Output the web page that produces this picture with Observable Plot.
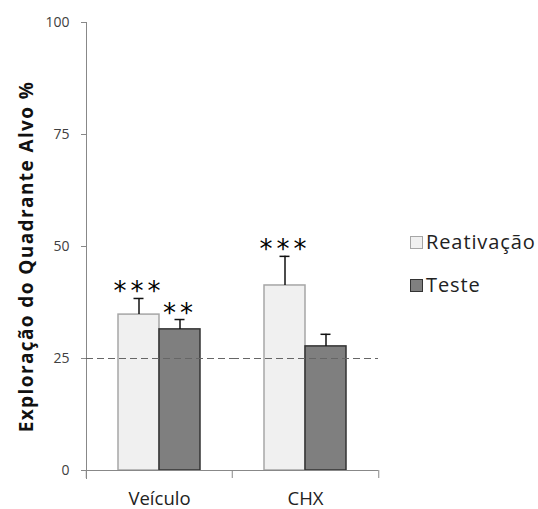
<!DOCTYPE html>
<html><head><meta charset="utf-8">
<script src="https://cdn.jsdelivr.net/npm/d3@7"></script>
<script src="https://cdn.jsdelivr.net/npm/@observablehq/plot@0.6"></script>
<style>
body{margin:0;background:#fff;font-family:"Open Sans",sans-serif}
#wrap{position:relative;width:538px;height:509px}
.leg{position:absolute;left:410px;font-size:20px;letter-spacing:0.9px;color:#222;display:flex;align-items:center;line-height:22px;white-space:nowrap}
.sw{width:11px;height:11px;margin-right:3px;border:1.5px solid}
</style></head><body><div id="wrap"></div>
<script>
const categories = ["Veículo", "CHX"];
const series = ["Reativação", "Teste"];
const reativacaoMeans = [34.8, 41.3];
const reativacaoErrors = [3.6, 6.5];
const reativacaoStars = ["***", "***"];
const testeMeans = [31.5, 27.7];
const testeErrors = [2.2, 2.7];
const testeStars = ["**", ""];
const chanceLevel = 25;
const yTicks = [0, 25, 50, 75, 100];
const yTitle = "Exploração do Quadrante Alvo %";
const seriesFill = ["#f0f0f0", "#7f7f7f"];
const seriesStroke = ["#a6a6a6", "#333333"];

const data = [];
categories.forEach((c, i) => {
  data.push({cat: c, series: series[0], mean: reativacaoMeans[i], err: reativacaoErrors[i], stars: reativacaoStars[i]});
  data.push({cat: c, series: series[1], mean: testeMeans[i], err: testeErrors[i], stars: testeStars[i]});
});
const errTop = d => d.mean + d.err;

const plot = Plot.plot({
  width: 538, height: 509,
  marginLeft: 85, marginRight: 160, marginTop: 22, marginBottom: 39,
  style: {fontFamily: "Open Sans", background: "white", overflow: "visible"},
  fx: {domain: categories, padding: 0, label: null},
  x: {domain: series, paddingInner: 0, paddingOuter: 0.765, axis: null},
  y: {domain: [0, 100], label: null},
  marks: [
    Plot.frame({anchor: "left", facetAnchor: "left", stroke: "#888", insetBottom: -8}),
    Plot.axisY(yTicks, {tickSize: 5, tickPadding: 12, fontSize: 14, stroke: "#888", fill: "#404040", label: null}),
    Plot.text([{t: yTitle, c: categories[0]}], {fx: "c", text: "t", frameAnchor: "left", textAnchor: "middle", rotate: -90, dx: -60, dy: 10, fontSize: 19, fontWeight: "bold", fill: "#111"}),
    Plot.axisFx({anchor: "bottom", tickSize: 0, tickPadding: 21, fontSize: 18.5, fill: "#222", label: null}),
    Plot.axisFx({anchor: "bottom", tickSize: 8, tickFormat: () => "", dx: -73.25, stroke: "#888", label: null}),
    Plot.axisFx({anchor: "bottom", ticks: [categories[1]], tickSize: 8, tickFormat: () => "", dx: 73.25, stroke: "#888", label: null}),
    Plot.barY(data.filter(d => d.series === series[0]), {fx: "cat", x: "series", y: "mean", fill: seriesFill[0], stroke: seriesStroke[0], strokeWidth: 1.5}),
    Plot.barY(data.filter(d => d.series === series[1]), {fx: "cat", x: "series", y: "mean", fill: seriesFill[1], stroke: seriesStroke[1], strokeWidth: 1.5}),
    Plot.ruleX(data, {fx: "cat", x: "series", y1: "mean", y2: errTop, stroke: "#111", strokeWidth: 1.5}),
    Plot.tickY(data, {fx: "cat", x: "series", y: errTop, insetLeft: 15.5, insetRight: 15.5, stroke: "#111", strokeWidth: 1.5}),
    Plot.ruleY([0], {stroke: "#888", strokeWidth: 1}),
    Plot.ruleY([chanceLevel], {stroke: "#666", strokeWidth: 1.2, strokeDasharray: "7,4"}),
    Plot.text(data, {fx: "cat", x: "series", y: errTop, text: "stars", lineAnchor: "bottom", dy: 2, fontSize: 26, fontFamily: "DejaVu Sans", fill: "#000"})
  ]
});
const wrap = document.getElementById("wrap");
wrap.appendChild(plot);
plot.querySelectorAll('g[aria-label="text"] text').forEach(t => {
  if (/^\*+$/.test(t.textContent)) t.style.letterSpacing = "4px";
  if (t.textContent === yTitle) t.style.letterSpacing = "1.4px";
});
const legTops = [231, 274];
series.forEach((s, i) => {
  const el = document.createElement("div");
  el.className = "leg";
  el.style.top = legTops[i] + "px";
  el.innerHTML = `<span class="sw" style="background:${seriesFill[i]};border-color:${seriesStroke[i]}"></span><span>${s}</span>`;
  wrap.appendChild(el);
});
</script></body></html>
